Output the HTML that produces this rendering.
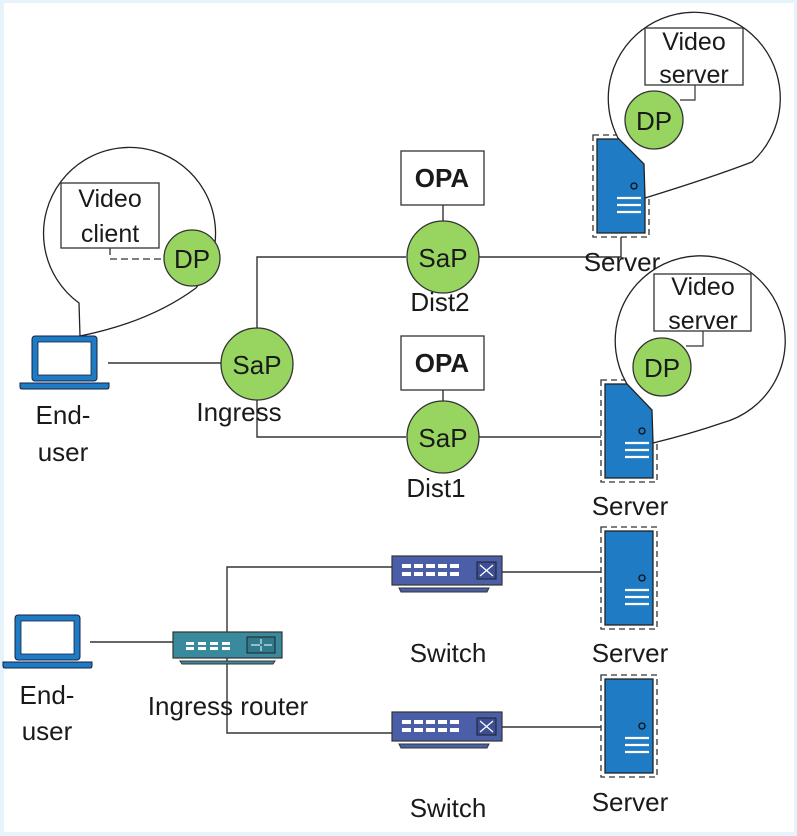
<!DOCTYPE html>
<html><head><meta charset="utf-8"><style>
html,body{margin:0;padding:0;background:#fff}
svg{display:block}
text{font-family:"Liberation Sans",sans-serif;fill:#1a1a1a}
</style></head><body>
<svg width="797" height="836" viewBox="0 0 797 836" xmlns="http://www.w3.org/2000/svg">
<defs>
<g id="srv">
  <rect x="-28" y="-51" width="56" height="102" fill="none" stroke="#333" stroke-width="1.3" stroke-dasharray="6,4"/>
  <rect x="-24" y="-47" width="48" height="94" fill="#1f7bc4" stroke="#222" stroke-width="1.3"/>
  <circle cx="13" cy="0" r="3" fill="none" stroke="#111" stroke-width="1.3"/>
  <path d="M-4 12h24M-4 19h24M-4 26h24" stroke="#fff" stroke-width="2.2"/>
</g>
<g id="sw">
  <rect x="0" y="0" width="110" height="29" fill="#4a5fa8" stroke="#333" stroke-width="1.2"/>
  <path d="M7 32h90l-2 4h-86z" fill="#4a5fa8" stroke="#333" stroke-width="1"/>
  <g fill="#fff">
    <rect x="10" y="8" width="9" height="4"/><rect x="22" y="8" width="9" height="4"/><rect x="34" y="8" width="9" height="4"/><rect x="46" y="8" width="9" height="4"/><rect x="58" y="8" width="9" height="4"/>
    <rect x="10" y="16" width="9" height="4"/><rect x="22" y="16" width="9" height="4"/><rect x="34" y="16" width="9" height="4"/><rect x="46" y="16" width="9" height="4"/><rect x="58" y="16" width="9" height="4"/>
  </g>
  <rect x="85" y="6" width="19" height="17" fill="#3c4f94" stroke="#222"/>
  <path d="M88 9l13 11M88 20l13-11" stroke="#fff" stroke-width="1.2"/>
</g>
<g id="lap">
  <rect x="12" y="0" width="65" height="45" rx="3" fill="#1f7bc4" stroke="#124" stroke-width="1"/>
  <rect x="18" y="6" width="53" height="33" fill="#fff" stroke="#124" stroke-width="0.8"/>
  <path d="M0 47h89v4q0 2-2 2h-85q-2 0-2-2z" fill="#1f7bc4" stroke="#124" stroke-width="1"/>
</g>
</defs>
<rect x="0" y="0" width="797" height="836" fill="#e6f3fa"/>
<rect x="4" y="3" width="790" height="829" fill="#fff"/>

<g fill="none" stroke="#333" stroke-width="1.4">
<path d="M108 363h113"/>
<path d="M257 328V257h149"/>
<path d="M257 400v37h149"/>
<path d="M479 257h142v-20"/>
<path d="M479 437h122"/>
<path d="M443 205v16M443 390v11"/>
<path d="M90 642h83"/>
<path d="M227 632V567h165M227 658V733h165"/>
<path d="M502 572h99M502 727h99"/>
</g>

<!-- callout 1 -->
<path d="M79 303 A86 86 0 1 1 196 288 Q150 322 80 336 Z" fill="#fff" stroke="#222" stroke-width="1.3"/>
<rect x="61" y="183" width="98" height="65" fill="#fff" stroke="#333" stroke-width="1.3"/>
<text x="110" y="207" font-size="25" text-anchor="middle">Video</text>
<text x="110" y="242" font-size="25" text-anchor="middle">client</text>
<path d="M110 248v11h53" fill="none" stroke="#333" stroke-width="1.3" stroke-dasharray="7,4"/>
<circle cx="192" cy="258" r="28" fill="#97d460" stroke="#333" stroke-width="1.3"/>
<text x="192" y="268" font-size="26" text-anchor="middle">DP</text>
<use href="#lap" x="20" y="336"/>
<text x="63" y="424" font-size="26" text-anchor="middle">End-</text>
<text x="63" y="461" font-size="26" text-anchor="middle">user</text>

<!-- SaP nodes -->
<circle cx="257" cy="364" r="36" fill="#97d460" stroke="#333" stroke-width="1.3"/>
<text x="257" y="374" font-size="26" text-anchor="middle">SaP</text>
<text x="239" y="421" font-size="26" text-anchor="middle">Ingress</text>

<rect x="401" y="151" width="83" height="54" fill="#fff" stroke="#333" stroke-width="1.3"/>
<text x="442" y="187" font-size="26" font-weight="bold" text-anchor="middle">OPA</text>
<circle cx="443" cy="257" r="36" fill="#97d460" stroke="#333" stroke-width="1.3"/>
<text x="443" y="267" font-size="26" text-anchor="middle">SaP</text>
<text x="440" y="311" font-size="26" text-anchor="middle">Dist2</text>

<rect x="401" y="336" width="83" height="54" fill="#fff" stroke="#333" stroke-width="1.3"/>
<text x="442" y="372" font-size="26" font-weight="bold" text-anchor="middle">OPA</text>
<circle cx="443" cy="437" r="36" fill="#97d460" stroke="#333" stroke-width="1.3"/>
<text x="443" y="447" font-size="26" text-anchor="middle">SaP</text>
<text x="436" y="497" font-size="26" text-anchor="middle">Dist1</text>

<!-- callout 2 -->
<use href="#srv" x="621" y="186"/>
<path d="M618 138 A86 86 0 1 1 752 162 Q710 178 645 198 L644 164 Z" fill="#fff" stroke="#222" stroke-width="1.3"/>
<rect x="645" y="28" width="98" height="57" fill="#fff" stroke="#333" stroke-width="1.3"/>
<text x="694" y="50" font-size="25" text-anchor="middle">Video</text>
<text x="694" y="83" font-size="25" text-anchor="middle">server</text>
<path d="M695 85v15h-15" fill="none" stroke="#333" stroke-width="1.2"/>
<circle cx="654" cy="120" r="29" fill="#97d460" stroke="#333" stroke-width="1.3"/>
<text x="654" y="130" font-size="26" text-anchor="middle">DP</text>
<text x="622" y="271" font-size="26" text-anchor="middle">Server</text>

<!-- callout 3 -->
<use href="#srv" x="629" y="431"/>
<path d="M627 384 A85 85 0 1 1 722 423 Q690 434 653 443 L652 410 Z" fill="#fff" stroke="#222" stroke-width="1.3"/>
<rect x="654" y="274" width="97" height="57" fill="#fff" stroke="#333" stroke-width="1.3"/>
<text x="703" y="295" font-size="25" text-anchor="middle">Video</text>
<text x="703" y="329" font-size="25" text-anchor="middle">server</text>
<path d="M703 331v15h-17" fill="none" stroke="#333" stroke-width="1.2"/>
<circle cx="662" cy="367" r="29" fill="#97d460" stroke="#333" stroke-width="1.3"/>
<text x="662" y="377" font-size="26" text-anchor="middle">DP</text>
<text x="630" y="515" font-size="26" text-anchor="middle">Server</text>

<!-- lower network -->
<use href="#lap" x="3" y="615"/>
<text x="47" y="704" font-size="26" text-anchor="middle">End-</text>
<text x="47" y="740" font-size="26" text-anchor="middle">user</text>

<rect x="173" y="632" width="109" height="26" fill="#3a8a9e" stroke="#333" stroke-width="1.2"/>
<path d="M180 661h95l-2 3h-91z" fill="#3a8a9e" stroke="#333" stroke-width="1"/>
<g fill="#fff"><rect x="186" y="642" width="8" height="3"/><rect x="198" y="642" width="8" height="3"/><rect x="210" y="642" width="8" height="3"/><rect x="222" y="642" width="8" height="3"/>
<rect x="186" y="647" width="8" height="3"/><rect x="198" y="647" width="8" height="3"/><rect x="210" y="647" width="8" height="3"/><rect x="222" y="647" width="8" height="3"/></g>
<rect x="247" y="637" width="28" height="16" fill="#2f7a8c" stroke="#222"/>
<path d="M251 645h9M264 645h8M261 639v5M261 646v5" stroke="#fff" stroke-width="1"/>
<text x="228" y="715" font-size="26" text-anchor="middle">Ingress router</text>

<use href="#sw" x="392" y="556"/>
<use href="#sw" x="392" y="712"/>
<text x="448" y="662" font-size="26" text-anchor="middle">Switch</text>
<text x="448" y="817" font-size="26" text-anchor="middle">Switch</text>

<use href="#srv" x="629" y="578"/>
<use href="#srv" x="629" y="726"/>
<text x="630" y="662" font-size="26" text-anchor="middle">Server</text>
<text x="630" y="811" font-size="26" text-anchor="middle">Server</text>
</svg>
</body></html>
